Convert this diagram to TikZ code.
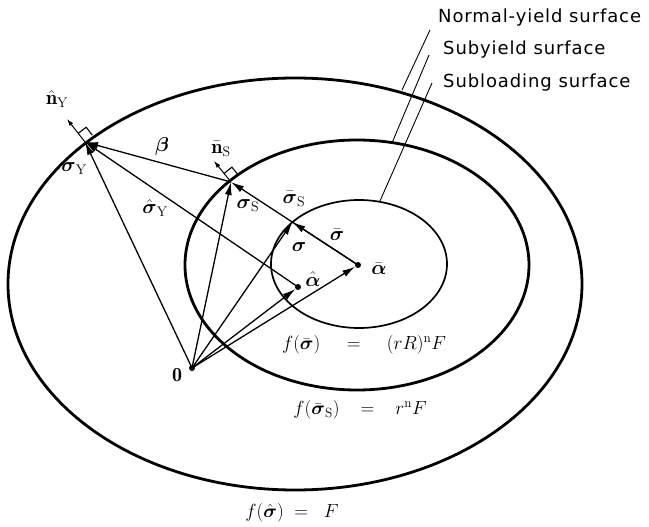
\RequirePackage{fix-cm}
\documentclass[tikz,border=0pt]{standalone}
\usepackage{amsmath}
\usepackage{amssymb}
\usepackage{fontspec}
\usepackage{tikz}
\usetikzlibrary{arrows.meta,calc}
\newfontfamily\surffont[LetterSpace=5]{DejaVu Sans}
\colorlet{slink}{black}
\tikzset{
  slsurface/.style={draw=slink,line width=2.8pt},
  slinner/.style={draw=slink,line width=1.7pt},
  slvector/.style={-{Latex[length=13pt,width=7pt]},line width=1.3pt,slink},
  slnormal/.style={-{Latex[length=7pt,width=4.5pt]},line width=1pt,slink},
  slangle/.style={line width=1.1pt,slink},
  slleader/.style={line width=0.9pt,slink},
  sldot/.style={circle,fill=slink,inner sep=0pt,minimum size=6pt},
  sllabel/.style={font=\fontsize{20}{24}\selectfont,inner sep=1pt},
  sleq/.style={font=\fontsize{19}{22}\selectfont,inner sep=1pt},
  slname/.style={font=\surffont\fontsize{18}{21}\selectfont,anchor=west,inner sep=0pt}
}

\begin{document}
\begin{tikzpicture}[x=1pt,y=-1pt]
  \useasboundingbox (0,0) rectangle (649,527);

  % surfaces
  \draw[slsurface] (295,284) ellipse [x radius=287, y radius=206];
  \draw[slsurface] (357,265) ellipse [x radius=172, y radius=125];
  \draw[slinner] (359,264) ellipse [x radius=88, y radius=64];

  \node[sldot] (O) at (192,368) {};
  \node[sldot] (ahat) at (298,287) {};
  \node[sldot] (abar) at (358,265) {};
  \coordinate (sigY) at (85,142);
  \coordinate (sigS) at (231,182);
  \coordinate (sig) at ($(abar)!0.5165!(sigS)$);
  \coordinate (nYtip) at (67,119);
  \coordinate (nStip) at (214,161);

  \draw[slvector] (O.center) -- (sigY);
  \draw[slvector] (sigS) -- (sigY);
  \draw[slvector] (ahat.center) -- (sigY);
  \draw[slvector] (O.center) -- (sigS);
  \draw[slvector] (abar.center) -- (sigS);
  \draw[slvector] (abar.center) -- (sig);
  \draw[slvector] (O.center) -- (sig);
  \draw[slvector] (O.center) -- (ahat);
  \draw[slvector] (O.center) -- (abar);

  \draw[slnormal] (sigY) -- (nYtip);
  \draw[slnormal] (sigS) -- (nStip);
  \draw[slangle] ($(sigY)!11pt!(nYtip)$) -- ++(8.0,-6.1) -- ++(6.1,8.0);
  \draw[slangle] ($(sigS)!11pt!(nStip)$) -- ++(7.8,-6.3) -- ++(6.3,7.8);

  \node[sllabel] (lnY) at (57,99) {$\hat{\mathbf n}_{\mathrm Y}$};
  \node[sllabel] (lbeta) at (162,147) {$\boldsymbol\beta$};
  \node[sllabel] (lnS) at (221,149) {$\bar{\mathbf n}_{\mathrm S}$};
  \node[sllabel] (lsigY) at (74,169) {$\boldsymbol\sigma_{\mathrm Y}$};
  \node[sllabel] (lsighY) at (155,208) {$\hat{\boldsymbol\sigma}_{\mathrm Y}$};
  \node[sllabel] (lsigS) at (248,206) {$\boldsymbol\sigma_{\mathrm S}$};
  \node[sllabel] (lsigbS) at (294,199) {$\bar{\boldsymbol\sigma}_{\mathrm S}$};
  \node[sllabel] (lsigb) at (337,235) {$\bar{\boldsymbol\sigma}$};
  \node[sllabel] (lsig) at (299,247) {$\boldsymbol\sigma$};
  \node[sllabel] (labar) at (379,269) {$\bar{\boldsymbol\alpha}$};
  \node[sllabel] (lahat) at (313,279) {$\hat{\boldsymbol\alpha}$};
  \node[sllabel] (lO) at (177,375) {$\mathbf 0$};

  \node[sleq] (eqsub) at (364,345) {$f(\bar{\boldsymbol\sigma})\;\;\;\;=\;\;\;\;(rR)^{\mathrm n}F$};
  \node[sleq] (eqsy) at (360,410) {$f(\bar{\boldsymbol\sigma}_{\mathrm S})\;\;\;=\;\;\;r^{\mathrm n}F$};
  \node[sleq] (eqny) at (292,513) {$f(\hat{\boldsymbol\sigma})\;=\;\;F$};

  \node[slname] (nys) at (438,18) {Normal-yield surface};
  \node[slname] (sys) at (443,50) {Subyield surface};
  \node[slname] (sls) at (443,83) {Subloading surface};
  \coordinate (nyend) at (402,90);
  \coordinate (syend) at (392,143);
  \coordinate (slend) at (380,201);
  \draw[slleader] ([xshift=-8pt,yshift=-12pt]nys.west) -- (nyend);
  \draw[slleader] ([xshift=-14pt,yshift=-5pt]sys.west) -- (syend);
  \draw[slleader] ([xshift=-11pt]sls.west) -- (slend);
\end{tikzpicture}
\end{document}
